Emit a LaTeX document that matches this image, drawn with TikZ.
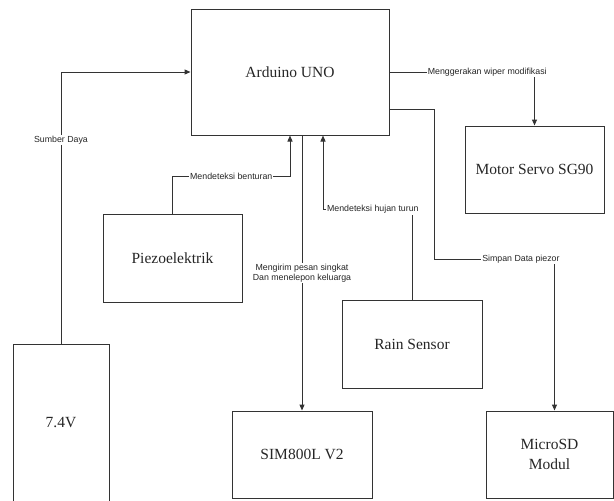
\documentclass[tikz,border=0pt]{standalone}
\usepackage{fontspec}
\setmainfont{Liberation Serif}
\newfontfamily\lblfont{Liberation Sans}
\usetikzlibrary{arrows.meta,positioning}

\begin{document}
\begin{tikzpicture}[
 x=1pt,y=-1pt,
 box/.style={draw=black!80,line width=1pt,align=center,inner sep=2pt,
              text=black!85,font=\fontsize{15.5}{20}\selectfont},
 lbl/.style={fill=white,inner sep=1pt,align=center,text=black!85,
              font=\lblfont\fontsize{8.8}{10.5}\selectfont},
 arrow/.style={-{Triangle[length=6pt,width=5pt]},line width=1pt,draw=black!80},
 line/.style={line width=1pt,draw=black!80}
]
\useasboundingbox (0,0) rectangle (614,501);
\node[box,minimum width=198pt,minimum height=126pt] (ard) at (290,72) {Arduino UNO};
\node[box,minimum width=139pt,minimum height=87pt] (servo) at (534.5,169.5) {Motor Servo SG90};
\node[box,minimum width=139pt,minimum height=88pt] (piezo) at (172.5,258) {Piezoelektrik};
\node[box,minimum width=140pt,minimum height=88pt] (rain) at (412,344) {Rain Sensor};
\node[box,minimum width=140pt,minimum height=87pt] (sim) at (302,454.5) {SIM800L V2};
\node[box,minimum width=127pt,minimum height=87pt] (sd) at (549.5,454.5) {MicroSD\\Modul};
\node[box,minimum width=96pt,minimum height=158pt] (bat) at (61,423) {7.4V};
\draw[arrow] (bat.north) |- node[lbl,pos=0.375] {Sumber Daya} (ard.west);
\draw[arrow] (piezo.north) -- ++(0,-37) -| node[lbl,pos=0.25] {Mendeteksi benturan} (ard.south);
\draw[arrow] (rain.north) -- ++(0,-90) -| node[lbl,pos=0.22] {Mendeteksi hujan turun} ([xshift=33pt]ard.south);
\draw[arrow] (sim.north |- ard.south) -- node[lbl] {Mengirim pesan singkat\\Dan menelepon keluarga} (sim.north);
\draw[arrow] (ard.east) -| node[lbl,pos=0.337] {Menggerakan wiper modifikasi} (servo.north);
\draw[arrow] ([yshift=-37pt]ard.east) -- ++(45,0) -- ++(0,150) -| node[lbl,pos=0.36] {Simpan Data piezor} ([xshift=5pt]sd.north);
\end{tikzpicture}
\end{document}
